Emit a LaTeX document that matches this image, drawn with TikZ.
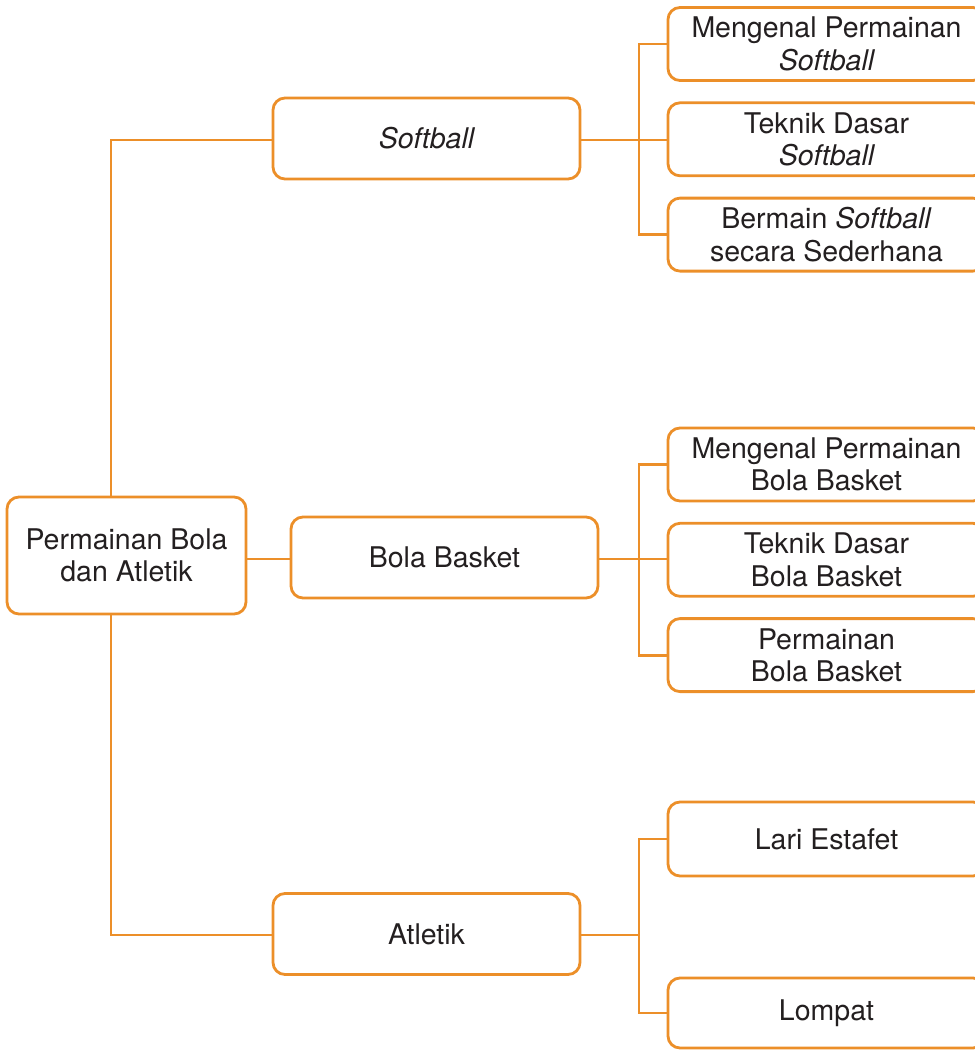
\documentclass[tikz,border=0pt]{standalone}
\usepackage{fontspec}
\setmainfont{TeX Gyre Heros}
\usetikzlibrary{positioning}
\definecolor{maporange}{RGB}{236,143,41}
\definecolor{maptext}{RGB}{35,31,32}
\tikzstyle{topic}=[rectangle,rounded corners=12pt,draw=maporange,line width=2.8pt,
fill=white,text=maptext,align=center,inner sep=0pt,
font=\fontsize{28.5}{32.5}\selectfont]
\tikzstyle{maintopic}=[topic,minimum width=239pt,minimum height=117pt]
\tikzstyle{midtopic}=[topic,minimum width=307pt,minimum height=81pt]
\tikzstyle{subtopic}=[topic,minimum width=317pt,minimum height=73pt]
\tikzstyle{link}=[draw=maporange,line width=2.8pt]

\begin{document}
\begin{tikzpicture}[x=1pt,y=-1pt,node distance=19.5pt]
            \useasboundingbox (0,0) rectangle (975,1050);
            \clip (0,0) rectangle (975,1050);

            % MAIN TOPIC

            \node[maintopic] (root) at (126.5,555.5) {Permainan Bola\\dan Atletik};

            % SOFTBALL PART

            \node[midtopic] (sb) at (426.5,138.5) {\itshape Softball};
            \node[subtopic] (sb1) at (826.5,44) {Mengenal Permainan\\\itshape Softball};
            \node[subtopic,below=of sb1] (sb2) {Teknik Dasar\\\itshape Softball};
            \node[subtopic,below=of sb2] (sb3) {Bermain \textit{Softball}\\secara Sederhana};

            % BOLA BASKET PART

            \node[midtopic] (bb) at (444.5,557.5) {Bola Basket};
            \node[subtopic] (bb1) at (826.5,464.5) {Mengenal Permainan\\Bola Basket};
            \node[subtopic,below=of bb1] (bb2) {Teknik Dasar\\Bola Basket};
            \node[subtopic,below=of bb2] (bb3) {Permainan\\Bola Basket};

            % ATLETIK PART

            \node[midtopic] (at) at (426.5,934) {Atletik};
            \node[subtopic,minimum height=74pt] (at1) at (826.5,839) {Lari Estafet};
            \node[subtopic,minimum height=70pt] (at2) at (826.5,1013) {Lompat};

            % Connections of topics

            \coordinate (spine) at (111,0);
            \coordinate (sbj) at (639,140);
            \coordinate (bbj) at (639,559);
            \coordinate (atj) at (639,935);

            \path[link] (sb.west |- sbj) -- (spine |- sbj) -- (spine |- root.north);
            \path[link] (at.west |- atj) -- (spine |- atj) -- (spine |- root.south);
            \path[link] (root.east |- bbj) -- (bb.west |- bbj);

            \path[link] (sb.east |- sbj) -- (sbj) -- (sb2.west |- sbj);
            \path[link] (sb1.west) -| (sbj) |- (sb3.west);

            \path[link] (bb.east |- bbj) -- (bbj) -- (bb2.west |- bbj);
            \path[link] (bb1.west) -| (bbj) |- (bb3.west);

            \path[link] (at.east |- atj) -- (atj);
            \path[link] (at1.west) -| (atj) |- (at2.west);

        \end{tikzpicture}
\end{document}
